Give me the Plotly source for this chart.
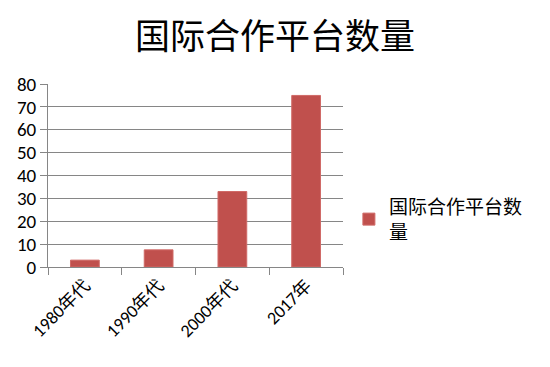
import plotly.graph_objects as go

categories = ["1980年代", "1990年代", "2000年代", "2017年"]
values = [3, 7.5, 33, 75]
series_name = "国际合作平台数<br>量"
title_text = "国际合作平台数量"
y_ticks = [0, 10, 20, 30, 40, 50, 60, 70, 80]

fig = go.Figure()
fig.add_trace(go.Bar(
    x=categories, y=values, name=series_name,
    marker=dict(color="#C0504D", line=dict(color="#D06A67", width=1)),
    showlegend=True,
))

cjk = "Noto Sans CJK SC"
fig.update_layout(
    width=550, height=367, autosize=False,
    paper_bgcolor="white", plot_bgcolor="white",
    margin=dict(l=48, r=207, t=84, b=100),
    bargap=0.61,
    title=dict(text=title_text, x=0.5, xref="container", xanchor="center",
               y=0.90, yref="container", yanchor="middle",
               font=dict(family=cjk, size=35, color="black")),
    font=dict(family="Carlito, Liberation Sans, " + cjk, size=18, color="black"),
    legend=dict(x=1.02, xanchor="left", y=0.26, yanchor="middle",
                font=dict(family=cjk, size=19, color="black"),
                itemwidth=30, tracegroupgap=0),
    xaxis=dict(
        showline=True, linecolor="#868686", linewidth=1,
        ticks="outside", ticklen=7, tickcolor="#868686", tickson="boundaries",
        tickangle=-45, showgrid=False,
        tickfont=dict(family="Carlito, Liberation Sans, " + cjk, size=18),
    ),
    yaxis=dict(
        range=[0, 80], tickvals=y_ticks,
        showline=True, linecolor="#868686", linewidth=1,
        ticks="outside", ticklen=7, tickcolor="#868686",
        showgrid=True, gridcolor="#868686", gridwidth=1,
        zeroline=False,
        tickfont=dict(family="Carlito, Liberation Sans", size=19),
    ),
)

fig.write_html("out.html")
